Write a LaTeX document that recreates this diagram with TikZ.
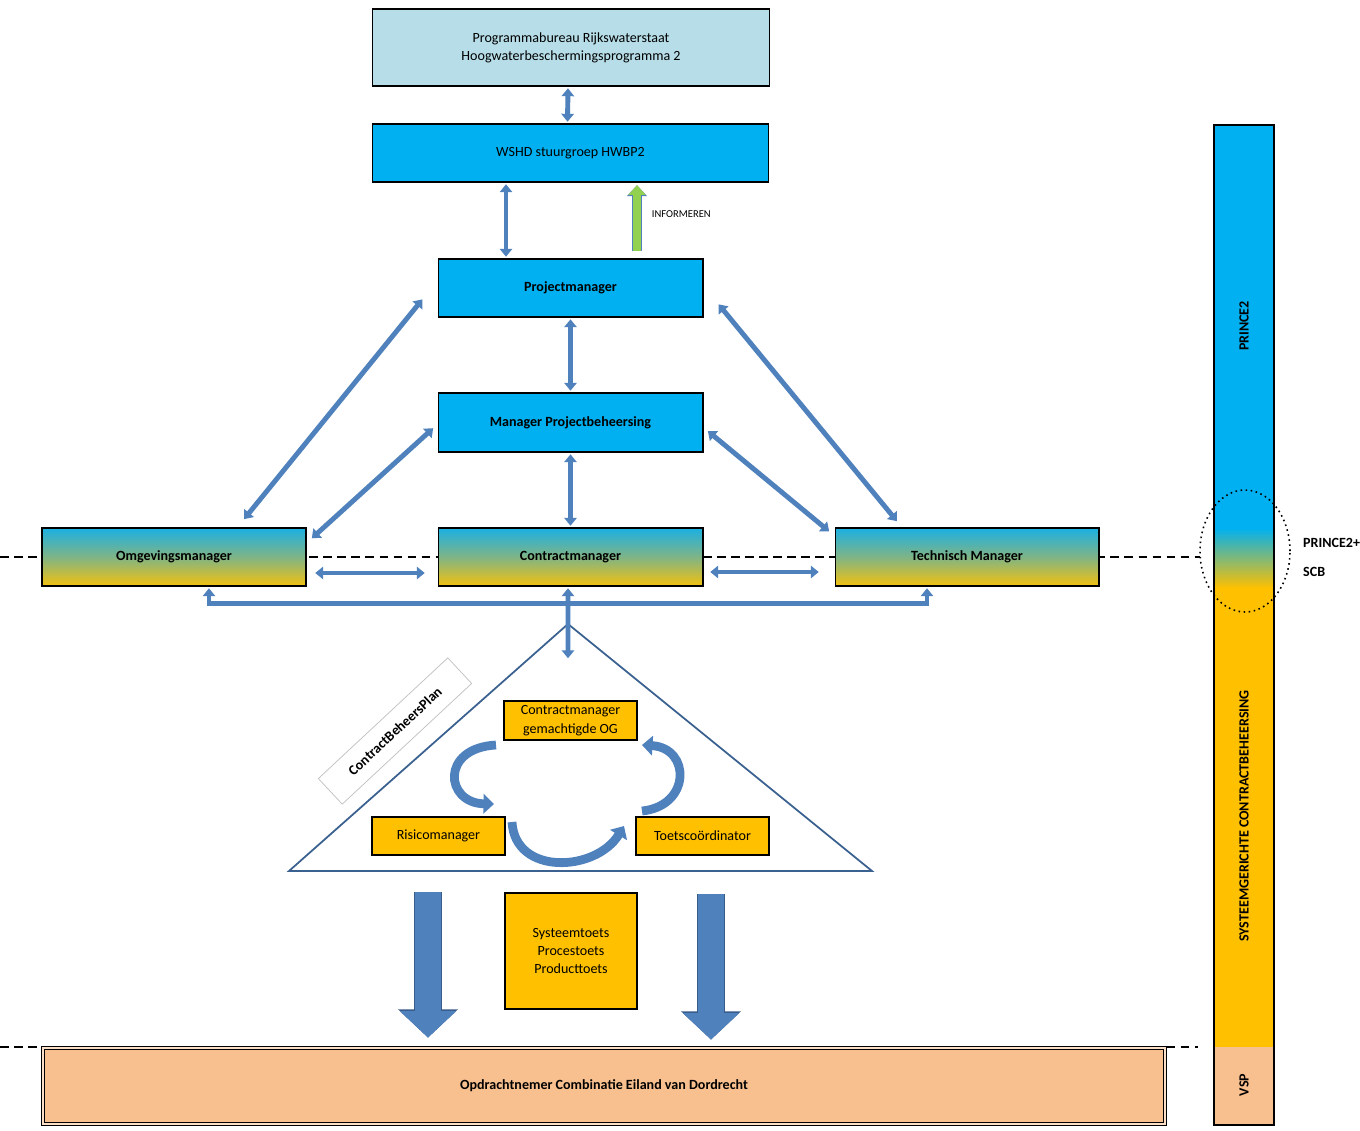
\documentclass[tikz,border=0pt]{standalone}
\usepackage{fontspec}
\setmainfont{Carlito}
\usetikzlibrary{arrows.meta, shapes.geometric, calc}
\definecolor{cbox}{HTML}{00B0F0}
\definecolor{clight}{HTML}{B7DEE8}
\definecolor{cgold}{HTML}{FFC000}
\definecolor{cpeach}{HTML}{F9C08F}
\definecolor{carrow}{HTML}{4F81BD}
\definecolor{cedge}{HTML}{385D8A}
\definecolor{cgreen}{HTML}{92D050}
\definecolor{gtop}{HTML}{1BB0E2}
\definecolor{gmid}{HTML}{7FB486}
\definecolor{gbot}{HTML}{F3C10E}
\tikzset{
  every picture/.style={font=\fontsize{8}{10.4}\selectfont},
  box/.style={draw=black, fill=#1, line width=0.6pt, align=center, inner sep=2pt},
  box/.default=cbox,
  gradbox/.style={draw=black, line width=0.6pt, top color=gtop, bottom color=gbot, middle color=gmid, align=center, inner sep=2pt},
  bold/.style={font=\fontsize{8}{10.4}\selectfont\bfseries},
  barrow/.style={draw=carrow, line width=2.8pt, {Triangle[width=7pt,length=4.5pt]}-{Triangle[width=7pt,length=4.5pt]}, shorten <=1pt, shorten >=1pt},
  informarrow/.style={draw=cgreen, line width=4.4pt, -{Triangle[width=9.5pt,length=5.5pt]},
    preaction={draw=carrow, line width=5.4pt, -{Triangle[width=11pt,length=6.2pt]}}},
  bigarrow/.style={draw=carrow, line width=15pt, -{Triangle[width=31pt,length=15pt]},
    preaction={draw=cedge, line width=16pt, -{Triangle[width=33pt,length=16pt]}}},
  cyclearrow/.style={draw=carrow, line width=5pt, -{Triangle[width=11pt,length=6pt]}},
  sepline/.style={dash pattern=on 5pt off 3pt, line width=1.1pt},
}

\begin{document}
\begin{tikzpicture}[x=0.02cm, y=-0.02cm]
  \path[use as bounding box, fill=white] (0,0) rectangle (1360,1130);
  % separating lines
  \draw[sepline] (0,557) -- (1200,557);
  \draw[sepline] (0,1047) -- (1198,1047);
  % organisation
  \node[box=clight, minimum width=7.94cm, minimum height=1.54cm] (prog) at (571,47.5) {Programmabureau Rijkswaterstaat\\ Hoogwaterbeschermingsprogramma 2};
  \node[box, minimum width=7.94cm, minimum height=1.16cm] (wshd) at (570.5,153) {WSHD stuurgroep HWBP2};
  \node[box, bold, minimum width=5.3cm, minimum height=1.16cm] (pm) at (570.5,288) {Projectmanager};
  \node[box, bold, minimum width=5.3cm, minimum height=1.18cm] (mpb) at (570.5,422.5) {Manager Projectbeheersing};
  \node[gradbox, bold, minimum width=5.28cm, minimum height=1.16cm] (omg) at (174,557) {Omgevingsmanager};
  \node[gradbox, bold, minimum width=5.3cm, minimum height=1.16cm] (cm) at (570.5,557) {Contractmanager};
  \node[gradbox, bold, minimum width=5.28cm, minimum height=1.16cm] (tm) at (967,557) {Technisch Manager};
  \draw[barrow] ([xshift=-0.06cm]prog.south) -- ([xshift=-0.06cm]wshd.north);
  \draw[barrow] ([xshift=-1.29cm]wshd.south) -- ([xshift=-1.29cm]pm.north);
  \draw[informarrow, shorten <=4pt, shorten >=1.5pt] ([xshift=1.33cm]pm.north) -- ([xshift=1.33cm]wshd.south) node[pos=0.58, right=3pt, font=\fontsize{6}{7}\selectfont] (inf) {INFORMEREN};
  \draw[barrow] (pm.south) -- (mpb.north);
  \draw[barrow] (mpb.south) -- (cm.north);
  \draw[barrow] ([xshift=-0.28cm, yshift=-0.2cm]pm.west) -- ([xshift=1.38cm, yshift=0.14cm]omg.north);
  \draw[barrow] ([xshift=-0.06cm, yshift=-0.09cm]mpb.west) -- ([xshift=0.08cm, yshift=-0.24cm]omg.north east);
  \draw[barrow] ([xshift=0.28cm, yshift=-0.3cm]pm.east) -- ([xshift=-1.38cm, yshift=0.1cm]tm.north);
  \draw[barrow] ([xshift=0.06cm, yshift=-0.15cm]mpb.east) -- ([xshift=-0.08cm, yshift=-0.1cm]tm.north west);
  \draw[barrow] ([xshift=0.14cm, yshift=-0.32cm]omg.east) -- ([xshift=-0.22cm, yshift=-0.32cm]cm.west);
  \draw[barrow] ([xshift=0.1cm, yshift=-0.3cm]cm.east) -- ([xshift=-0.28cm, yshift=-0.3cm]tm.west);
  \draw[barrow] ([xshift=0.7cm]omg.south) |- ([xshift=-0.8cm, yshift=-0.34cm]tm.south) -- ([xshift=-0.8cm]tm.south);
  % contract management triangle
  \coordinate (apex) at (568,624);
  \coordinate (cbpin) at (568,660);
  \draw[cedge!90!carrow, line width=1pt] (apex) -- (872,871) -- (289,871) -- cycle;
  \draw[barrow] ([xshift=-0.05cm]cm.south) -- (cbpin);
  \node[draw=black!25, fill=white, bold, rotate=43, minimum width=3.54cm, minimum height=0.7cm] (plan) at (395,731) {ContractBeheersPlan};
  \node[box=cgold, minimum width=2.66cm, minimum height=0.78cm, inner sep=1pt] (cmog) at (570.5,720.5) {Contractmanager\\ gemachtigde OG};
  \node[box=cgold, minimum width=2.66cm, minimum height=0.76cm] (risico) at (438.5,836) {Risicomanager};
  \node[box=cgold, minimum width=2.66cm, minimum height=0.76cm] (toets) at (702.5,836) {Toetscoördinator};
  \draw[cyclearrow] (496,745) .. controls (440,748) and (445,803) .. (494,804);
  \draw[cyclearrow] (512,822) .. controls (515,876) and (596,872) .. (624,826);
  \draw[cyclearrow] (642,811) .. controls (691,806) and (691,748) .. (642,745);
  % toetsing and contractor
  \node[box=cgold, minimum width=2.64cm, minimum height=2.32cm] (toetsen) at (571,951) {Systeemtoets\\ Procestoets\\ Producttoets};
  \node[box=cpeach, bold, double=cpeach!50!white, double distance=1.2pt, line width=0.5pt, minimum width=22.44cm, minimum height=1.52cm] (opdr) at (604,1086) {Opdrachtnemer Combinatie Eiland van Dordrecht};
  \coordinate (lefttop) at (428,892);
  \coordinate (righttop) at (711,894);
  \draw[bigarrow] (lefttop) -- ([yshift=0.2cm]opdr.north -| lefttop);
  \draw[bigarrow] (righttop) -- ([yshift=0.16cm]opdr.north -| righttop);
  % method bar
  \fill[cbox] (1214,125) rectangle (1274,528);
  \shade[top color=cbox, middle color=gmid, bottom color=cgold] (1214,528) rectangle (1274,588);
  \fill[cgold] (1214,588) rectangle (1274,1047);
  \fill[cpeach] (1214,1047) rectangle (1274,1125);
  \draw[line width=1.4pt] (1214,125) rectangle (1274,1125);
  \node[bold, rotate=90] (prince) at (1244,326) {PRINCE2};
  \node[bold, rotate=90] (scbbar) at (1244,816) {SYSTEEMGERICHTE CONTRACTBEHEERSING};
  \node[bold, rotate=90] (vsp) at (1244,1085) {VSP};
  \node[ellipse, draw, dotted, line width=0.9pt, minimum width=1.8cm, minimum height=2.44cm, inner sep=0pt] (ring) at (1245,551) {};
  \node[bold, anchor=west] (princeplus) at (1297,543) {PRINCE2+};
  \node[bold, anchor=west] (scb) at (1297,572) {SCB};
\end{tikzpicture}
\end{document}
